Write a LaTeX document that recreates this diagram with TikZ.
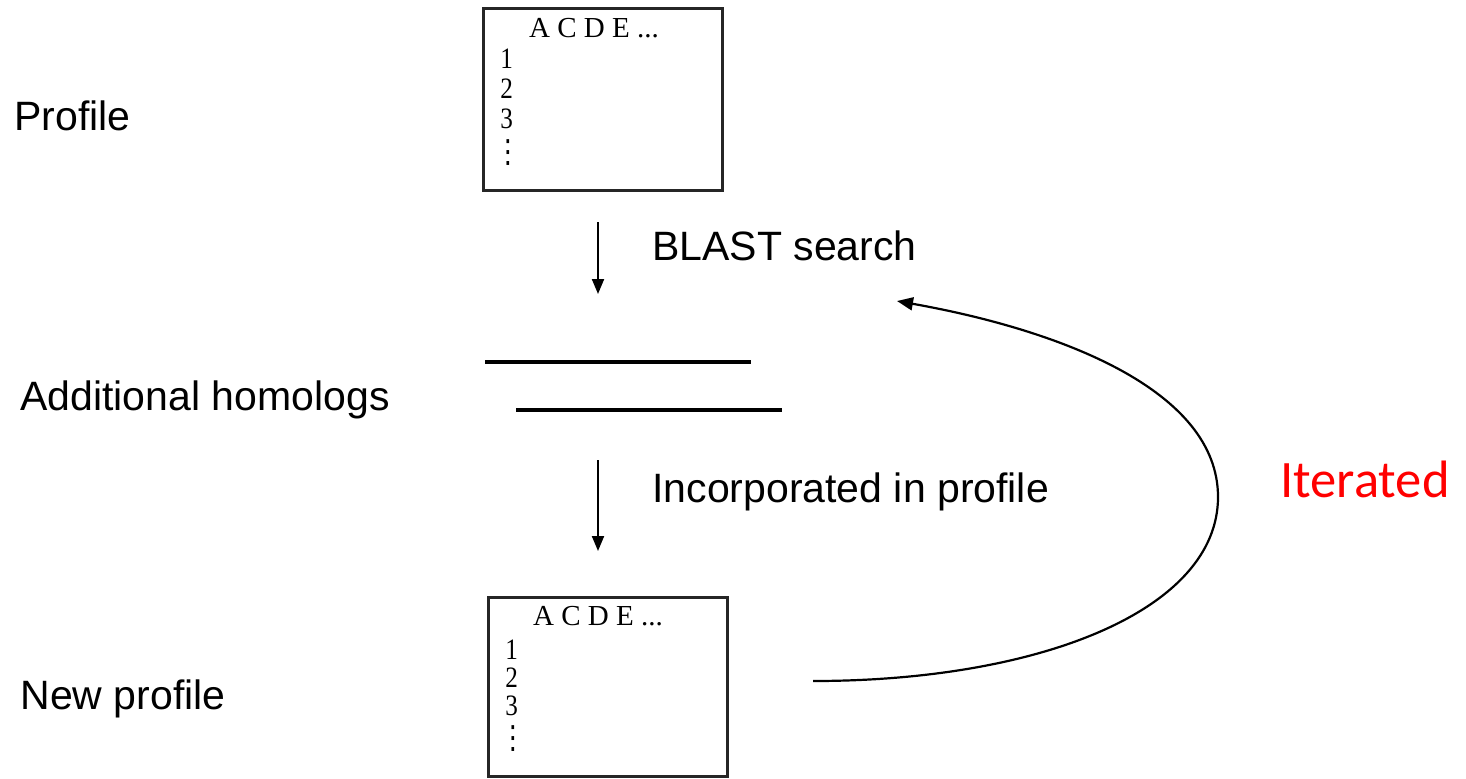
\documentclass[tikz,border=0pt]{standalone}
\usepackage{fontspec}
\setmainfont{Liberation Sans}
\newfontfamily\tabfont{Liberation Serif}
\newfontfamily\calib{Carlito}
\newfontfamily\symfont{DejaVu Sans}
\usetikzlibrary{arrows.meta}
\begin{document}
\begin{tikzpicture}[x=0.5pt,y=-0.5pt,
  lab/.style={anchor=base west,inner sep=0pt,font=\fontsize{20.5}{24}\selectfont},
  profbox/.style={draw=black!85,line width=1.5pt,inner sep=0pt},
  tabtxt/.style={inner sep=0pt,font=\tabfont\fontsize{14.5}{16}\selectfont},
  digit/.style={tabtxt,anchor=base west,font=\tabfont\fontsize{14.8}{15}\selectfont},
  dots/.style={inner sep=0pt,anchor=north,font=\symfont\fontsize{16}{16}\selectfont},
  homline/.style={line width=2.2pt},
  flow/.style={line width=1pt,-{Triangle[length=7.5pt,width=6pt]}}]
\useasboundingbox (0,0) rectangle (1466,778);
% labels
\node[lab] (lprof) at (14,130) {Profile};
\node[lab] (lhom) at (20,410) {Additional homologs};
\node[lab] (lnew) at (20,709) {New profile};
\node[lab] (lblast) at (652,260) {BLAST search};
\node[lab] (linc) at (652,502) {Incorporated in profile};
\node[anchor=base west,inner sep=0pt,text=red,font=\calib\fontsize{26.3}{30}\selectfont] (liter) at (1280,497) {Iterated};
% top profile box
\draw[profbox] (483,8) rectangle (722,190);
\node[tabtxt,anchor=base] (th) at (594,37) {A C D E ...};
\node[digit] (t1) at (500,68) {\scalebox{0.85}[1]{1}};
\node[digit] (t2) at (500,98) {\scalebox{0.85}[1]{2}};
\node[digit] (t3) at (500,128) {\scalebox{0.85}[1]{3}};
\node[dots] (td) at (508,139) {\scalebox{0.8}[1]{⋮}};
% bottom profile box
\draw[profbox] (488,597) rectangle (727,776);
\node[tabtxt,anchor=base] (bh) at (598,625) {A C D E ...};
\node[digit] (b1) at (505,659) {\scalebox{0.85}[1]{1}};
\node[digit] (b2) at (505,687) {\scalebox{0.85}[1]{2}};
\node[digit] (b3) at (505,715) {\scalebox{0.85}[1]{3}};
\node[dots] (bd) at (513,725) {\scalebox{0.8}[1]{⋮}};
% homolog lines
\coordinate (h1a) at (485,362); \coordinate (h1b) at (751,362);
\coordinate (h2a) at (516,410); \coordinate (h2b) at (782,410);
\draw[homline] (h1a) -- (h1b);
\draw[homline] (h2a) -- (h2b);
% arrows
\coordinate (a1s) at (598,222); \coordinate (a1e) at (598,294);
\coordinate (a2s) at (598,460); \coordinate (a2e) at (598,551);
\draw[flow] (a1s) -- (a1e);
\draw[flow] (a2s) -- (a2e);
% iteration arc
\coordinate (cs) at (813,681);
\coordinate (cr) at (1218,497);
\coordinate (ce) at (897,301);
\draw[line width=1.1pt,-{Triangle[length=8pt,width=6.5pt]}] (cs) .. controls (1040,681) and (1218,610) .. (cr) .. controls (1218,390) and (1060,330) .. (ce);
\end{tikzpicture}
\end{document}
